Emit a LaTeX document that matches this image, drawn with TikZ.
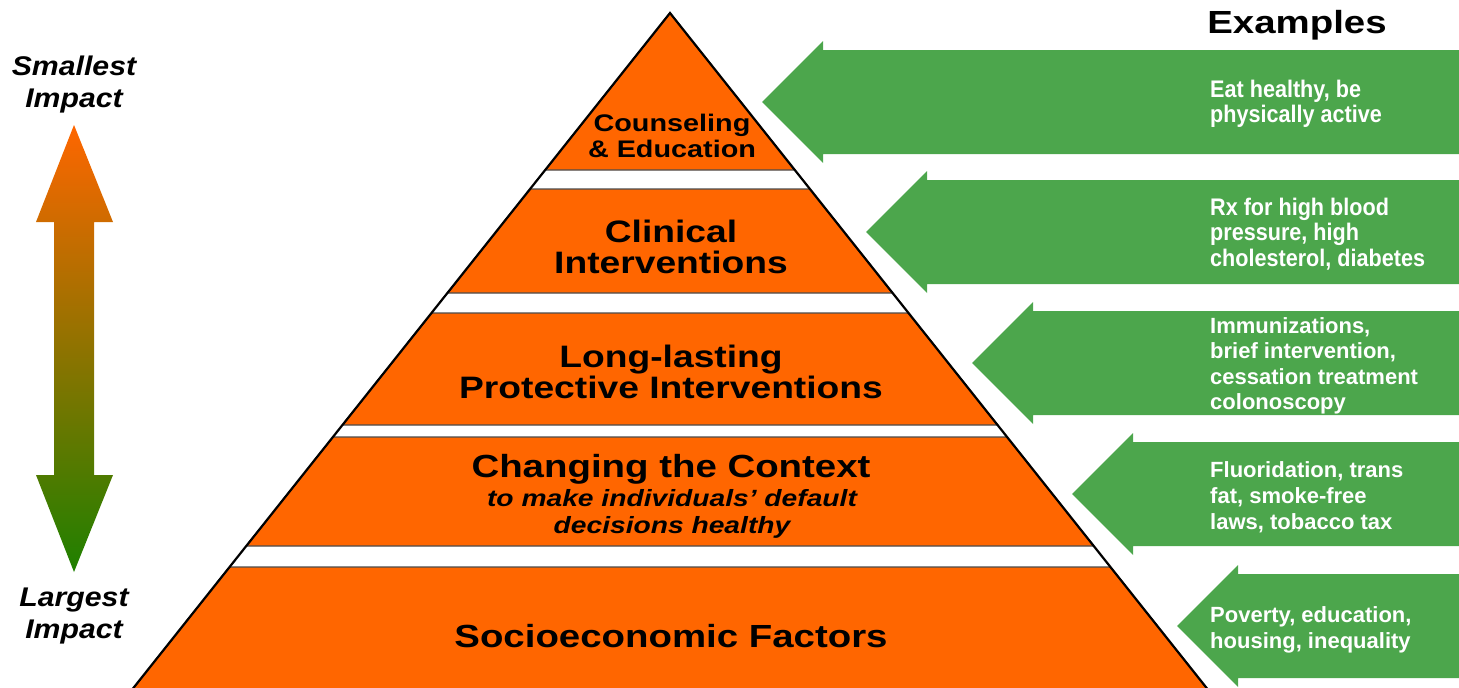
\documentclass[tikz,border=0pt]{standalone}
\usepackage{fontspec}
\setmainfont{Liberation Sans}
\newfontfamily\pyrfont{Liberation Sans}[FakeStretch=1.2]
\newfontfamily\sidefont{Liberation Sans}[FakeStretch=1.12]
\newfontfamily\narrowfont{Liberation Sans}[FakeStretch=0.9]
\definecolor{pyrorange}{RGB}{255,102,0}
\definecolor{exgreen}{RGB}{76,166,76}
\definecolor{deepgreen}{RGB}{30,128,0}
\tikzset{
  band/.style={fill=pyrorange,draw=black!70,line width=1.2pt},
  side/.style={draw=black,line width=2.2pt},
  exarrow/.style={fill=exgreen},
  impactarrow/.style={top color=pyrorange,bottom color=deepgreen},
  level/.style={inner sep=0pt,anchor=base,align=center,font=\pyrfont\bfseries\fontsize{31}{31}\selectfont},
  sublevel/.style={inner sep=0pt,anchor=base,align=center,font=\pyrfont\bfseries\itshape\fontsize{23.5}{27}\selectfont},
  sidelabel/.style={inner sep=0pt,anchor=base,align=center,font=\sidefont\bfseries\itshape\fontsize{27}{32}\selectfont},
  example/.style={inner sep=0pt,anchor=base west,align=left,text=white,font=\bfseries\fontsize{22}{25.5}\selectfont},
}
\begin{document}
\begin{tikzpicture}[x=1pt,y=-1pt]
		\useasboundingbox (0,0) rectangle (1459,688);
		\foreach \t/\b in {13/170,189/293,313/425,437/546,567/700}
			\draw[band] ({670-0.795*(\t-13)},\t) -- ({670+0.795*(\t-13)},\t) -- ({670+0.795*(\b-13)},\b) -- ({670-0.795*(\b-13)},\b) -- cycle;
		\coordinate (apex) at (670,13);
		\coordinate (baseL) at ({670-0.795*687},700);
		\coordinate (baseR) at ({670+0.795*687},700);
		\draw[side] (baseL) -- (apex) -- (baseR);
		\foreach \c/\tx in {102/762,232/866,363/972,494/1072,626/1177}
			\fill[exarrow] (\tx,\c) -- ({\tx+61},{\c-61}) -- ({\tx+61},{\c-52}) -- (1470,{\c-52}) -- (1470,{\c+52}) -- ({\tx+61},{\c+52}) -- ({\tx+61},{\c+61}) -- cycle;
		\shade[impactarrow] (74,125) -- (113,222) -- (94,222) -- (94,475) -- (113,475) -- (74,572) -- (36,475) -- (54,475) -- (54,222) -- (36,222) -- cycle;
		\node[level,font=\pyrfont\bfseries\fontsize{24}{26}\selectfont] (counsel) at (672,157) {Counseling\\\& Education};
		\node[level] (clinical) at (671,273) {Clinical\\Interventions};
		\node[level] (protect) at (671,398) {Long-lasting\\Protective Interventions};
		\node[level,font=\pyrfont\bfseries\fontsize{32}{32}\selectfont] (context) at (671,477) {Changing the Context};
		\node[sublevel] (contextsub) at (672,533) {to make individuals’ default\\decisions healthy};
		\node[level,font=\pyrfont\bfseries\fontsize{32}{32}\selectfont] (socio) at (671,647) {Socioeconomic Factors};
		\node[sidelabel] (smallest) at (74,107) {Smallest\\Impact};
		\node[sidelabel] (largest) at (74,638) {Largest\\Impact};
		\node[inner sep=0pt,anchor=base,font=\pyrfont\bfseries\fontsize{32}{32}\selectfont] (examples) at (1297,33) {Examples};
		\node[example,font=\narrowfont\bfseries\fontsize{24}{25}\selectfont] (ex1) at (1210,122) {Eat healthy, be\\physically active};
		\node[example,font=\narrowfont\bfseries\fontsize{24}{25.5}\selectfont] (ex2) at (1210,266) {Rx for high blood\\pressure, high\\cholesterol, diabetes};
		\node[example] (ex3) at (1210,409.5) {Immunizations,\\brief intervention,\\cessation treatment\\colonoscopy};
		\node[example,font=\bfseries\fontsize{22}{26}\selectfont] (ex4) at (1210,529) {Fluoridation, trans\\fat, smoke-free\\laws, tobacco tax};
		\node[example,font=\bfseries\fontsize{22}{26}\selectfont] (ex5) at (1210,648) {Poverty, education,\\housing, inequality};
\end{tikzpicture}
\end{document}
